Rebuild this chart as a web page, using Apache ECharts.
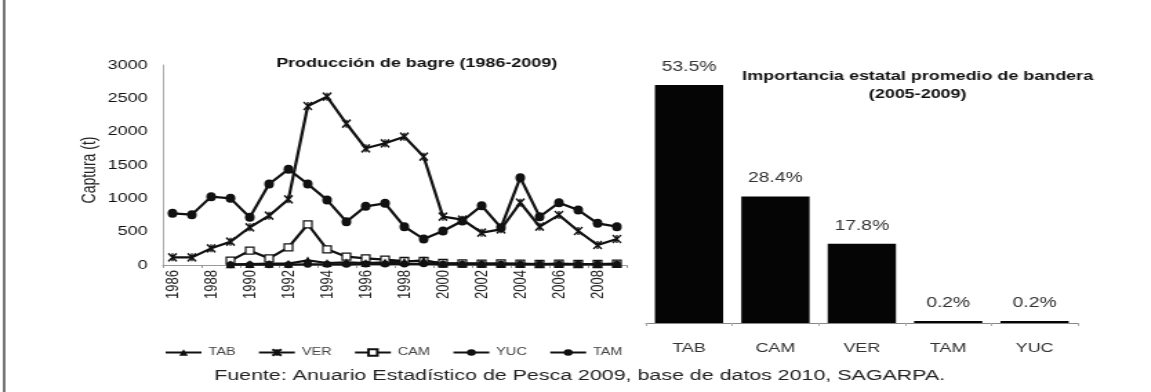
<!DOCTYPE html>
<html>
<head>
<meta charset="utf-8">
<script src="https://cdn.jsdelivr.net/npm/echarts@6/dist/echarts.min.js"></script>
<style>
  html, body { margin: 0; padding: 0; background: #fff; overflow: hidden; }
  #wrap { width: 1151px; height: 392px; overflow: hidden; background: #fff; }
  /* the figure is laid out narrow and widened horizontally */
  #chart { width: 834px; height: 392px; transform: scaleX(1.38); transform-origin: 0 0; }
</style>
</head>
<body>
<div id="wrap"><div id="chart"></div></div>
<script>
// Captura anual de bagre por estado (t), 1986-2009
const years = ['1986','1987','1988','1989','1990','1991','1992','1993','1994','1995','1996','1997',
               '1998','1999','2000','2001','2002','2003','2004','2005','2006','2007','2008','2009'];
const tab = [null, null, null, 10, 15, 20, 20, 70, 30, 40, 30, 40, 50, 70, 20, 20, 20, 15, 15, 15, 15, 15, 15, 15];
const ver = [115, 115, 250, 350, 565, 740, 985, 2385, 2525, 2120, 1750, 1825, 1925, 1625, 725, 680, 485, 535, 935, 575, 750, 510, 300, 390];
const cam = [null, null, null, 65, 215, 100, 265, 610, 235, 125, 100, 80, 60, 60, 30, 25, 20, 25, 20, 15, 20, 15, 15, 20];
const yuc = [775, 755, 1025, 1000, 715, 1215, 1435, 1215, 975, 650, 880, 925, 575, 390, 510, 660, 890, 560, 1310, 725, 935, 825, 625, 575];
const tam = [null, null, null, 5, 5, 5, 5, 10, 10, 10, 15, 15, 15, 20, 10, 10, 10, 10, 10, 10, 10, 10, 10, 10];

// Importancia estatal promedio (2005-2009), %
const states = ['TAB', 'CAM', 'VER', 'TAM', 'YUC'];
const share = [53.5, 28.4, 17.8, 0.2, 0.2];

const SANS = 'Liberation Sans, Arial, sans-serif';
const INK = '#111';

const asterisk = 'path://M0,0L10,10M10,0L0,10M5,0L5,10';

function lineSeries(name, data, symbol, size, fill) {
  return {
    name, type: 'line', xAxisIndex: 0, yAxisIndex: 0, data,
    symbol, symbolSize: size, showAllSymbol: true,
    lineStyle: { color: INK, width: 2.2 },
    itemStyle: { color: fill, borderColor: INK, borderWidth: symbol === asterisk ? 1.5 : (fill === '#fff' ? 1.3 : 0) },
    connectNulls: false
  };
}

const chart = echarts.init(document.getElementById('chart'), null, { renderer: 'canvas' });
chart.setOption({
  animation: false,
  backgroundColor: '#fff',
  textStyle: { fontFamily: SANS },
  title: [
    { text: 'Producción de bagre (1986-2009)', left: 297, top: 52, textAlign: 'center',
      textStyle: { fontSize: 13, fontWeight: 'bold', color: '#111', fontFamily: SANS } },
    { text: 'Importancia estatal promedio de bandera\n(2005-2009)', left: 660, top: 62, textAlign: 'center',
      textStyle: { fontSize: 13, fontWeight: 'bold', color: '#111', lineHeight: 18, fontFamily: SANS } }
  ],
  legend: {
    data: ['TAB', 'VER', 'CAM', 'YUC', 'TAM'],
    left: 114, top: 342, itemWidth: 26, itemHeight: 8, itemGap: 16,
    textStyle: { fontSize: 10.5, color: '#444', fontFamily: SANS }
  },
  grid: [
    { left: 118, right: 380, top: 65, bottom: 127, containLabel: false },
    { left: 468, right: 53, top: 56, bottom: 69, containLabel: false }
  ],
  xAxis: [
    { type: 'category', gridIndex: 0, data: years, boundaryGap: true,
      axisLine: { lineStyle: { color: '#999', width: 1 } },
      axisTick: { show: true, length: 3, lineStyle: { color: '#999' } },
      axisLabel: { interval: 1, rotate: 90, fontSize: 13, margin: 5, color: '#222', fontFamily: SANS } },
    { type: 'category', gridIndex: 1, data: states, boundaryGap: true,
      axisLine: { lineStyle: { color: '#888', width: 1 } },
      axisTick: { show: true, length: 3, lineStyle: { color: '#aaa' } },
      axisLabel: { fontSize: 13, margin: 19, color: '#333', fontFamily: SANS } }
  ],
  yAxis: [
    { type: 'value', gridIndex: 0, min: 0, max: 3000, interval: 500,
      axisLine: { show: true, lineStyle: { color: '#aaa', width: 1 } },
      axisTick: { show: false },
      splitLine: { show: false },
      axisLabel: { fontSize: 13, margin: 11, color: '#111', fontFamily: SANS, formatter: v => String(v) } },
    { type: 'value', gridIndex: 1, min: 0, max: 60, show: false, splitLine: { show: false } }
  ],
  series: [
    lineSeries('CAM', cam, 'rect', [6, 7], '#fff'),
    lineSeries('TAB', tab, 'triangle', [7, 8], INK),
    lineSeries('TAM', tam, 'circle', [6, 7], INK),
    lineSeries('VER', ver, asterisk, [6, 8], INK),
    lineSeries('YUC', yuc, 'circle', [7, 9], INK),
    {
      name: 'share', type: 'bar', xAxisIndex: 1, yAxisIndex: 1, data: share,
      barWidth: '79%', barMinHeight: 2,
      itemStyle: { color: '#050505' },
      label: { show: true, position: 'top', distance: 11, fontSize: 14, color: '#333', fontFamily: SANS,
               formatter: p => p.value.toFixed(1) + '%' }
    }
  ],
  graphic: [
    { type: 'line', shape: { x1: 3, y1: 0, x2: 3, y2: 392 }, style: { stroke: '#555', lineWidth: 1.6 } },
    { type: 'text', x: 65, y: 170, rotation: Math.PI / 2,
      style: { text: 'Captura (t)', fontSize: 14, fill: '#222', fontFamily: SANS,
               textAlign: 'center', textVerticalAlign: 'middle' } },
    { type: 'text', x: 420, y: 376,
      style: { text: 'Fuente: Anuario Estadístico de Pesca 2009, base de datos 2010, SAGARPA.',
               fontSize: 15.5, fill: '#222', fontFamily: SANS, textAlign: 'center', textVerticalAlign: 'middle' } }
  ]
});
</script>
</body>
</html>
